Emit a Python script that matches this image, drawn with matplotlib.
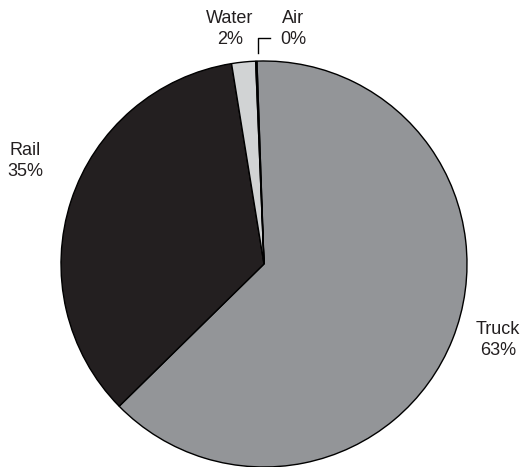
import matplotlib.pyplot as plt
import numpy as np

plt.rcParams['font.family'] = ['Liberation Sans', 'DejaVu Sans']

modes = ["Truck", "Rail", "Water", "Air"]
shares = [63.2, 34.8, 1.9, 0.1]
colors = ["#939598", "#231f20", "#d1d3d4", "#ffffff"]

W, H = 523, 467
cx, cy, r = 264, 264, 203  # pixel center and radius

fig = plt.figure(figsize=(W / 100, H / 100), dpi=100)
ax = fig.add_axes([0, 0, 1, 1])
ax.pie(shares, colors=colors, startangle=92, counterclock=False,
       wedgeprops=dict(edgecolor="black", linewidth=1.0))
ax.set_xlim(-cx / r, (W - cx) / r)
ax.set_ylim(-(H - cy) / r, cy / r)
ax.set_aspect("equal")
ax.axis("off")

def px(x, y):
    return (x - cx) / r, (cy - y) / r

labels = ["%s\n%d%%" % (m, round(s)) for m, s in zip(modes, shares)]
label_pos = {"Truck": (498, 340), "Rail": (25, 161), "Water": (230, 29), "Air": (293, 29)}
for m, lab in zip(modes, labels):
    x, y = px(*label_pos[m])
    ax.text(x, y, lab, ha="center", va="center", fontsize=13,
            linespacing=1.3, color="#231f20")

# leader line for Air
lx, ly = zip(px(270, 38), px(258, 38), px(258, 53))
ax.plot(lx, ly, color="black", linewidth=1.0)

fig.savefig("out.png", dpi=100)
